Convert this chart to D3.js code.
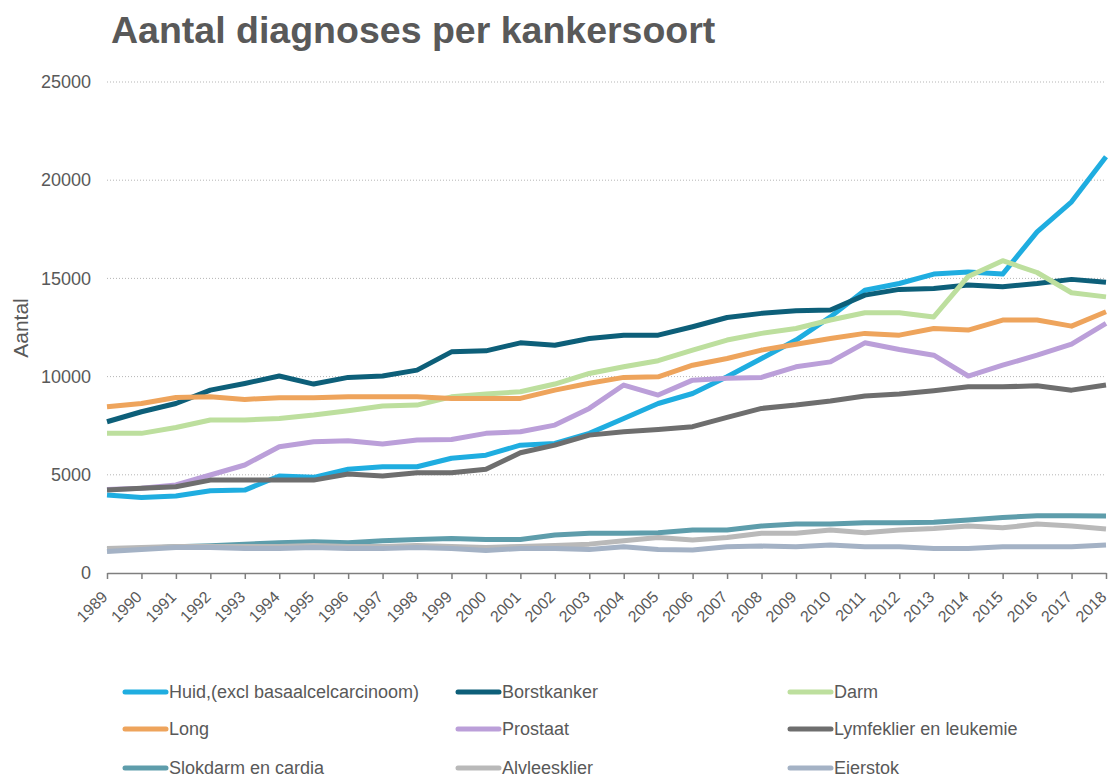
<!DOCTYPE html>
<html>
<head>
<meta charset="utf-8">
<script src="https://cdn.jsdelivr.net/npm/d3@7"></script>
<style>
  body { margin: 0; background: #fff; }
  text { font-family: Arial, "Liberation Sans", sans-serif; fill: #595959; }
</style>
</head>
<body>
<script>
// jaren op de x-as
var years = d3.range(1989, 2019)
var yTicks = [0, 5000, 10000, 15000, 20000, 25000]

var huid = [3970,3850,3920,4190,4220,4940,4870,5280,5410,5410,5840,6000,6510,6600,7110,7870,8630,9140,9990,10920,11860,13040,14400,14740,15220,15330,15220,17370,18900,21190]
var borstkanker = [7700,8210,8630,9310,9650,10030,9620,9960,10030,10330,11260,11310,11720,11600,11940,12110,12110,12540,13010,13220,13350,13390,14150,14440,14490,14660,14570,14740,14950,14800]
var darm = [7110,7110,7410,7790,7790,7870,8040,8260,8500,8550,8970,9110,9230,9620,10160,10500,10810,11350,11860,12200,12450,12880,13250,13250,13040,15100,15900,15300,14270,14060]
var long = [8460,8630,8940,8970,8840,8920,8920,8970,8970,8970,8890,8890,8890,9310,9660,9960,9990,10580,10920,11350,11650,11940,12200,12110,12450,12370,12880,12880,12570,13300]
var prostaat = [4250,4320,4480,4990,5500,6430,6680,6730,6570,6770,6800,7110,7190,7530,8380,9570,9060,9820,9910,9960,10500,10750,11720,11380,11090,10030,10580,11090,11650,12710]
var lymfeklier = [4230,4310,4390,4730,4730,4730,4730,5040,4940,5110,5110,5280,6120,6510,7020,7190,7310,7450,7920,8380,8550,8760,9010,9110,9280,9480,9480,9530,9310,9570]
var slokdarm = [1200,1250,1340,1390,1470,1540,1590,1540,1640,1710,1760,1710,1710,1930,2020,2020,2050,2190,2190,2390,2490,2490,2560,2560,2580,2700,2830,2920,2920,2900]
var alvleesklier = [1250,1300,1350,1350,1350,1350,1400,1350,1350,1400,1350,1300,1350,1400,1470,1640,1810,1680,1810,2020,2020,2190,2050,2190,2270,2390,2300,2490,2390,2240]
var eierstok = [1090,1200,1300,1300,1250,1250,1300,1250,1250,1300,1250,1150,1250,1250,1200,1340,1200,1170,1340,1370,1340,1420,1340,1340,1250,1250,1340,1340,1340,1420]

var names = ["Huid,(excl basaalcelcarcinoom)", "Borstkanker", "Darm", "Long", "Prostaat", "Lymfeklier en leukemie", "Slokdarm en cardia", "Alvleesklier", "Eierstok"]
var colors = ["#1fade0", "#0d5f79", "#bddf9e", "#eea45c", "#bb9fd9", "#6e6e6e", "#5e9dab", "#b9b9b9", "#a4b2c5"]
var values = [huid, borstkanker, darm, long, prostaat, lymfeklier, slokdarm, alvleesklier, eierstok]

var series = names.map((name, i) => {
    return { name: name, color: colors[i], values: values[i] }
})

let svg = d3.select('body')
    .append('svg')
    .attr('width', 1110)
    .attr('height', 778)

let Xscale = d3.scaleLinear()
    .domain([1989, 2018])
    .range([107, 1106])

let Yscale = d3.scaleLinear()
    .domain([0, 25000])
    .range([573, 82])

// titel
svg.append('text')
    .attr('x', 111)
    .attr('y', 43)
    .style('font-size', '37.5px')
    .style('font-weight', 'bold')
    .text('Aantal diagnoses per kankersoort')

// as-titel
svg.append('text')
    .attr('transform', 'translate(28,328) rotate(-90)')
    .attr('text-anchor', 'middle')
    .style('font-size', '21px')
    .text('Aantal')

// gestippelde rasterlijnen
svg.selectAll('.grid')
    .data(yTicks.filter(d => d > 0))
    .enter()
    .append('line')
    .attr('class', 'grid')
    .attr('x1', Xscale(1989))
    .attr('x2', Xscale(2018))
    .attr('y1', d => Yscale(d))
    .attr('y2', d => Yscale(d))
    .attr('stroke', '#b5b5b5')
    .attr('stroke-width', 1)
    .attr('stroke-dasharray', '1,2')

let y_Axis = d3.axisLeft(Yscale)
    .tickValues(yTicks)
    .tickSize(0)
    .tickPadding(16)
    .tickFormat(d3.format('d'))

let yAxisGroup = svg.append('g')
    .attr('transform', 'translate(' + Xscale(1989) + ',0)')
    .call(y_Axis)
yAxisGroup.select('.domain').remove()
yAxisGroup.selectAll('text')
    .style('font-size', '18px')
    .style('font-family', 'Arial, "Liberation Sans", sans-serif')
    .attr('fill', '#595959')

let x_Axis = d3.axisBottom(Xscale)
    .tickValues(years)
    .tickSize(6)
    .tickSizeOuter(0)
    .tickFormat(d3.format('d'))

let xAxisGroup = svg.append('g')
    .attr('transform', 'translate(0,' + Yscale(0) + ')')
    .call(x_Axis)
xAxisGroup.select('.domain').attr('stroke', '#7f7f7f').attr('stroke-width', 1.5)
xAxisGroup.selectAll('.tick line').attr('stroke', '#7f7f7f').attr('stroke-width', 1.5)
// labels schuin, iets naar links zodat 2018 niet buiten beeld valt
xAxisGroup.selectAll('text')
    .attr('y', 0)
    .attr('dy', '0.35em')
    .attr('transform', 'translate(-3,21) rotate(-45)')
    .attr('text-anchor', 'end')
    .style('font-size', '16px')
    .style('font-family', 'Arial, "Liberation Sans", sans-serif')
    .attr('fill', '#595959')

// lijnen
let line = d3.line()
    .x((d, i) => Xscale(years[i]))
    .y(d => Yscale(d))

svg.selectAll('.serie')
    .data(series)
    .enter()
    .append('path')
    .attr('class', 'serie')
    .attr('d', d => line(d.values))
    .attr('fill', 'none')
    .attr('stroke', d => d.color)
    .attr('stroke-width', 5)
    .attr('stroke-linejoin', 'round')

// legenda, 3 kolommen
let legendX = [123, 456, 788]
let legendY = [692, 729, 768]

let legend = svg.selectAll('.legend')
    .data(series)
    .enter()
    .append('g')
    .attr('class', 'legend')
    .attr('transform', (d, i) => 'translate(' + legendX[i % 3] + ',' + legendY[Math.floor(i / 3)] + ')')

legend.append('line')
    .attr('x1', 2)
    .attr('x2', 43)
    .attr('stroke', d => d.color)
    .attr('stroke-width', 5)
    .attr('stroke-linecap', 'round')

legend.append('text')
    .attr('x', 46)
    .attr('dy', '0.35em')
    .style('font-size', '18px')
    .text(d => d.name)
</script>
</body>
</html>
